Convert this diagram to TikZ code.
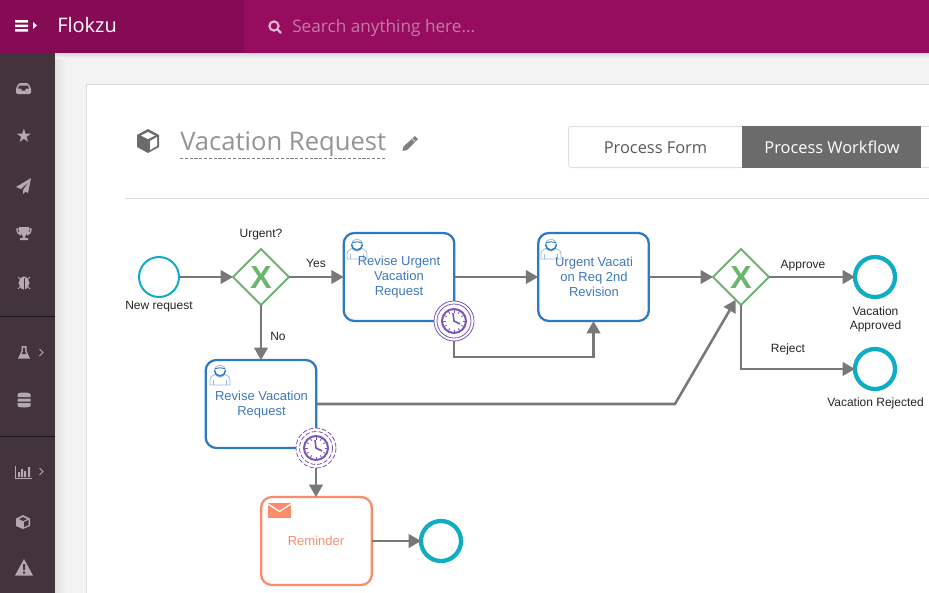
\documentclass[tikz,border=0pt]{standalone}
\usepackage{fontspec}
\setmainfont{Liberation Sans}
\newfontfamily\uifont{Open Sans}
\usetikzlibrary{shapes.geometric,arrows.meta,calc}
\definecolor{hdr}{HTML}{960C5F}
\definecolor{hdrd}{HTML}{850B55}
\definecolor{side}{HTML}{43333D}
\definecolor{sicon}{HTML}{B3A9AF}
\definecolor{pagebg}{HTML}{F3F3F3}
\definecolor{cyanev}{HTML}{0FADC4}
\definecolor{gwgreen}{HTML}{6DB56F}
\definecolor{taskblue}{HTML}{2C7AC3}
\definecolor{tasktxt}{HTML}{3F78BE}
\definecolor{userblue}{HTML}{9ABDE0}
\definecolor{orangee}{HTML}{FA8C6C}
\definecolor{purp}{HTML}{7B57B8}
\definecolor{flowg}{HTML}{787878}
\tikzset{
  x=0.75pt,y=-0.75pt,
  flow/.style={draw=flowg,line width=1.9pt,-{Triangle[length=9.2pt,width=10pt]},line join=miter},
  evstart/.style={circle,draw=cyanev,line width=1.5pt,fill=white,minimum size=30pt,inner sep=0pt,outer sep=0pt},
  evend/.style={circle,draw=cyanev,line width=3.2pt,fill=white,minimum size=30pt,inner sep=0pt,outer sep=0pt},
  gw/.style={diamond,aspect=1,draw=gwgreen,line width=1.5pt,fill=white,minimum size=42pt,inner sep=0pt,outer sep=0pt},
  gwx/.style={font=\fontsize{24pt}{24pt}\selectfont\bfseries,text=gwgreen},
  taskbox/.style={rectangle,rounded corners=8pt,draw=taskblue,line width=1.7pt,fill=white,minimum width=83pt,minimum height=66pt,inner sep=0pt,outer sep=0pt},
  tasktext/.style={align=center,text=tasktxt,font=\fontsize{9.75pt}{11.25pt}\selectfont,inner sep=0pt},
  redbox/.style={taskbox,draw=orangee},
  lbl/.style={align=center,font=\fontsize{9pt}{10.5pt}\selectfont,text=black!85,inner sep=0pt},
  timer/.style={circle,fill=white,minimum size=30pt,inner sep=0pt,outer sep=0pt},
  sideic/.style={fill=sicon,draw=none},
  sidel/.style={draw=sicon,line width=1pt},
}
\newcommand{\clockicon}[2]{%
  \draw[purp,line width=1.5pt,fill=white] (#1,#2) circle[radius=12];
  \foreach \a in {0,30,...,330}{\draw[purp,line width=.6pt] ($(#1,#2)+(\a:8.5)$) -- ($(#1,#2)+(\a:11)$);}
  \draw[purp,line width=1.2pt] (#1,#2) ++(-1,-8) -- ++(1,8) -- ++(6,3);
}
\newcommand{\usericon}[2]{%
  \begin{scope}[shift={(#1,#2)}]
    \draw[userblue,line width=.6pt,fill=white] (-10,15) -- (-10,10) .. controls (-10,6) and (-6,5) .. (-4,4) -- (4,4) .. controls (6,5) and (10,6) .. (10,10) -- (10,15) -- cycle;
    \draw[userblue,line width=.6pt] (-6.5,15) -- (-6.5,10) (6.5,15) -- (6.5,10) (-4,5) .. controls (-2,8) and (2,8) .. (4,5);
    \draw[userblue,line width=.6pt,fill=white] (0,0.5) circle[radius=5.5];
    \draw[taskblue,line width=1.1pt] (-5.5,0.5) arc[start angle=180,end angle=0,radius=5.5];
    \draw[taskblue,line width=.7pt] (-5.2,-1) .. controls (-2,-2.5) and (2,-2.5) .. (5.2,-1);
  \end{scope}
}
\newcommand{\cubeic}[4]{% x y size colour
  \begin{scope}[shift={(#1,#2)},scale=#3]
    \fill[#4] (0,-12) -- (11,-6) -- (11,6) -- (0,12) -- (-11,6) -- (-11,-6) -- cycle;
    \fill[white] (0,-9) -- (7,-5.5) -- (0,-2) -- (-7,-5.5) -- cycle;
    \fill[white] (2,0) -- (9,-4) -- (9,5) -- (2,9) -- cycle;
  \end{scope}
}
\begin{document}
\begin{tikzpicture}
\useasboundingbox (0,0) rectangle (929,593);
\begin{scope}
\clip (0,0) rectangle (929,593);
% page
\fill[pagebg] (0,0) rectangle (929,593);
\shade[left color=black!12,right color=pagebg] (55,53) rectangle (66,593);
\shade[top color=black!15,bottom color=pagebg] (55,53) rectangle (929,58);
\fill[white] (86,84) rectangle (929,593);
\draw[black!14,line width=.75pt] (86,593) -- (86,84) -- (929,84);
% header
\fill[hdr] (0,0) rectangle (929,53);
\fill[hdrd] (0,0) rectangle (244,53);
\fill[white] (15,20) rectangle (28,22.5) (15,24.5) rectangle (28,27) (15,29) rectangle (28,31.5);
\fill[white] (33,22) -- (37,25.5) -- (33,29) -- cycle;
\node[text=white,font=\uifont\fontsize{15pt}{15pt}\selectfont,anchor=base west,inner sep=0pt] (brand) at (57,32) {Flokzu};
\draw[hdr!30!white,line width=1.6pt] (274,26) circle[radius=4.6] (277.5,29.5) -- (281,33);
\node[text=hdr!55!white,font=\uifont\fontsize{12.9pt}{13.5pt}\selectfont,anchor=base west,inner sep=0pt] (search) at (292,32) {Search anything here...};
% sidebar
\fill[side] (0,53) rectangle (55,593);
\draw[black!55!side,line width=.75pt] (0,316) -- (55,316) (0,436) -- (55,436);
% inbox
\fill[sideic,rounded corners=1pt] (16,94) -- (16,88) -- (19,83) -- (28,83) -- (31,88) -- (31,94) -- cycle;
\fill[side] (19,85.5) -- (28,85.5) -- (29,88.5) -- (26,88.5) -- (25,90.5) -- (22,90.5) -- (21,88.5) -- (18,88.5) -- cycle;
% star
\node[text=sicon,font=\fontsize{14pt}{14pt}\selectfont,inner sep=0pt] (sstar) at (24,136) {\fontspec{DejaVu Sans}★};
% plane
\fill[sideic] (31,178) -- (16,187) -- (21,189) -- (29,181.5) -- (23,190) -- (23,194) -- (25.5,191.5) -- (28,193) -- cycle;
% trophy
\fill[sideic] (19,227) rectangle (29,234) (22,234) -- (26,234) -- (25,238) -- (23,238) -- cycle (20,238) rectangle (28,240);
\draw[sidel] (19,229) -- (17,229) .. controls (17,233) and (19,234) .. (21,235) (29,229) -- (31,229) .. controls (31,233) and (29,234) .. (27,235);
% bug
\fill[sideic] (24,283) ellipse[x radius=5,y radius=6.5];
\draw[draw=sicon,line width=.7pt] (18,277) -- (20.5,279.5) (30,277) -- (27.5,279.5) (18,283) -- (30,283) (18,289) -- (20.5,286.5) (30,289) -- (27.5,286.5);
\draw[side,line width=.6pt] (24,278) -- (24,290);
% flask
\fill[sideic] (21.5,346) -- (26.5,346) -- (26.5,351) -- (30,358.5) -- (18,358.5) -- (21.5,351) -- cycle;
\fill[side] (23,347.5) -- (25,347.5) -- (25,351.5) -- (26.5,354) -- (21.5,354) -- (23,351.5) -- cycle;
\draw[sicon,line width=.75pt] (39.5,349) -- (43,352.5) -- (39.5,356);
% database
\fill[sideic] (17.5,394) rectangle (30.5,397) (17.5,398.5) rectangle (30.5,401.5) (17.5,403) rectangle (30.5,406);
\fill[sideic] (24,394) ellipse[x radius=6.5,y radius=1.5] (24,406) ellipse[x radius=6.5,y radius=1.5];
% chart
\draw[sicon,line width=.75pt] (15.5,466) -- (15.5,478.5) -- (32,478.5);
\fill[sideic] (18,472) rectangle (20,477) (21,469) rectangle (23,477) (24,471) rectangle (26,477) (28,467) rectangle (30,477);
\draw[sicon,line width=.75pt] (39.5,468) -- (43,471.5) -- (39.5,475);
% cube
\fill[sicon] (23,515) -- (30,518.5) -- (30,526) -- (23,529) -- (16,526) -- (16,518.5) -- cycle;
\fill[side] (23,517) -- (27,519) -- (23,521) -- (19,519) -- cycle;
\fill[side] (24,522) -- (28.5,520) -- (28.5,525) -- (24,527) -- cycle;
% warning
\fill[sideic] (24,559) -- (33,575.5) -- (15,575.5) -- cycle;
\fill[side] (23,564) rectangle (25,570) (23,571.5) rectangle (25,573.5);
% title
\cubeic{148}{141}{1}{black!58}
\node[text=black!42,font=\uifont\fontsize{19.2pt}{20pt}\selectfont,anchor=base west,inner sep=0pt] (title) at (180,150) {Vacation Request};
\draw[black!50,line width=.75pt,dash pattern=on 2.4pt off 1.2pt] (180,158) -- (386,158);
% pencil
\fill[black!50] (415,136) -- (418,139) -- (407,150) -- (402.5,151) -- (403.5,146.5) -- cycle;
\draw[white,line width=.5pt] (412,138.5) -- (415.5,142);
% buttons
\draw[black!12,line width=.75pt,fill=white,rounded corners=2pt] (742,126.5) -- (568.5,126.5) -- (568.5,167.5) -- (742,167.5);
\fill[black!58] (742,126) rectangle (921,168);
\draw[black!12,line width=.75pt] (921,126.5) -- (929,126.5) (921,167.5) -- (929,167.5);
\node[text=black!65,font=\uifont\fontsize{12.3pt}{12.3pt}\selectfont,inner sep=0pt] (bform) at (655.5,147.5) {Process Form};
\node[text=white,font=\uifont\fontsize{12.3pt}{12.3pt}\selectfont,inner sep=0pt] (bflow) at (832,147.5) {Process Workflow};
\draw[black!13,line width=.75pt] (125,198.5) -- (929,198.5);
\end{scope}
% diagram nodes
\node[evstart] (start) at (159,277) {};
\node[gw] (g1) at (261,277) {};
\node[gwx] (g1x) at (261,277) {X};
\node[taskbox] (t1) at (399,277) {};
\node[taskbox] (t2) at (593.5,277) {};
\node[gw] (g2) at (741,277) {};
\node[gwx] (g2x) at (741,277) {X};
\node[evend] (e1) at (875,277) {};
\node[evend] (e2) at (875,369) {};
\node[taskbox] (t3) at (261,404) {};
\node[redbox] (t4) at (316.5,541) {};
\node[evend] (e3) at (441,541) {};
\node[timer] (c1) at (454,321) {};
\node[timer] (c2) at (316,448) {};
\coordinate (b1) at (593.5,357);
\coordinate (b2) at (675,404);
\coordinate (b3) at (741,369);
% connectors
\draw[flow] (start) -- (g1);
\draw[flow] (g1) -- (t1);
\draw[flow] (t1) -- (t2);
\draw[flow] (t2) -- (g2);
\draw[flow] (g2) -- (e1);
\draw[flow] (g1) -- (t3);
\draw[flow] (c1.south) |- (b1) -- (t2.south);
\draw[flow] (t3.east) -- (b2) -- (g2.257);
\draw[flow] (g2.south) -- (b3) -- (e2.west);
\draw[flow] (c2.south) -- (t4.north -| c2.south);
\draw[flow] (t4) -- (e3);
% task icons and text
\usericon{357}{244}
\usericon{551}{244}
\usericon{220}{370}
\node[tasktext] (t1t) at (399,277) {Revise Urgent\\Vacation\\Request};
\node[tasktext] (t2t) at (594,277) {Urgent Vacati\\on Req 2nd\\Revision};
\node[tasktext] (t3t) at (261.5,404.5) {Revise Vacation\\Request};
\node[tasktext,text=orangee] (t4t) at (316,541) {Reminder};
\fill[orangee] (268,503) rectangle (291,518);
\draw[white,line width=.9pt] (268,504) -- (279.5,511.5) -- (291,504);
% timers
\draw[purp,line width=.6pt] (c1) circle[radius=20] (c1) circle[radius=17];
\clockicon{454}{321}
\draw[purp,line width=.6pt,dash pattern=on 3.5pt off 1.5pt] (c2) circle[radius=20] (c2) circle[radius=16.5];
\clockicon{316}{448}
% labels
\node[lbl] (lnew) at (159,306.5) {New request};
\node[lbl] (lurg) at (261,235) {Urgent?};
\node[lbl] (lyes) at (316,263) {Yes};
\node[lbl] (lno) at (278,336) {No};
\node[lbl] (lapp) at (803,265.5) {Approve};
\node[lbl] (lrej) at (788,349.5) {Reject};
\node[lbl] (lva) at (875.5,319) {Vacation\\Approved};
\node[lbl] (lvr) at (875.5,403.5) {Vacation Rejected};
\end{tikzpicture}
\end{document}
